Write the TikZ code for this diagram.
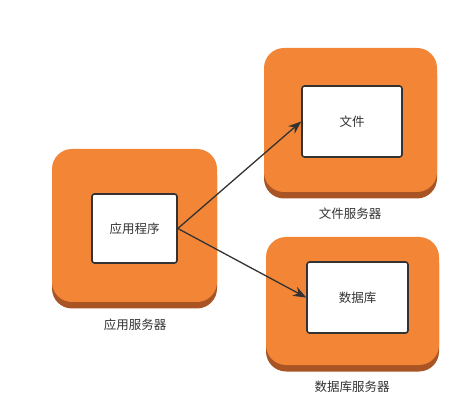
\documentclass[tikz,border=0pt]{standalone}
\usepackage{fontspec}
\newfontfamily\cjk{Noto Sans CJK SC}
\usetikzlibrary{shadows, arrows.meta}
\definecolor{srvorange}{RGB}{242,133,54}
\definecolor{srvbrown}{RGB}{168,84,36}
\definecolor{boxgray}{RGB}{51,51,51}

\begin{document}
\begin{tikzpicture}[x=1pt, y=-1pt,
    server/.style={fill=srvorange, rounded corners=20pt, inner sep=0pt,
        drop shadow={shadow xshift=0pt, shadow yshift=-6.5pt, fill=srvbrown, opacity=1}},
    appbox/.style={draw=boxgray, line width=1.6pt, fill=white, rounded corners=2.5pt,
        inner sep=0pt, font=\cjk\fontsize{12.5}{15}\selectfont, text=boxgray},
    srvlabel/.style={font=\cjk\fontsize{12.5}{15}\selectfont, text=boxgray},
    link/.style={draw=boxgray, line width=1.3pt, -{Stealth[length=13pt, width=10pt]}}]
    \useasboundingbox (0,0) rectangle (474,403);

    % Application server
    \node[server, minimum width=165pt, minimum height=153pt] (appsrv) at (134.5,225.5) {};
    \node[appbox, minimum width=85pt, minimum height=69pt] (app) at (134.5,228.5) {应用程序};
    \node[srvlabel] (appsrvlabel) at (135,325) {应用服务器};

    % File server
    \node[server, minimum width=173pt, minimum height=144pt] (filesrv) at (350.5,120) {};
    \node[appbox, minimum width=100pt, minimum height=71pt] (file) at (352,121.5) {文件};
    \node[srvlabel] (filesrvlabel) at (350,214) {文件服务器};

    % Database server
    \node[server, minimum width=173pt, minimum height=128pt] (dbsrv) at (352.5,301) {};
    \node[appbox, minimum width=101pt, minimum height=71pt] (db) at (357.5,297.5) {数据库};
    \node[srvlabel] (dbsrvlabel) at (352,387) {数据库服务器};

    % Connections
    \draw[link] (app.east) -- (file.west);
    \draw[link] (app.east) -- (db.west);
\end{tikzpicture}
\end{document}
